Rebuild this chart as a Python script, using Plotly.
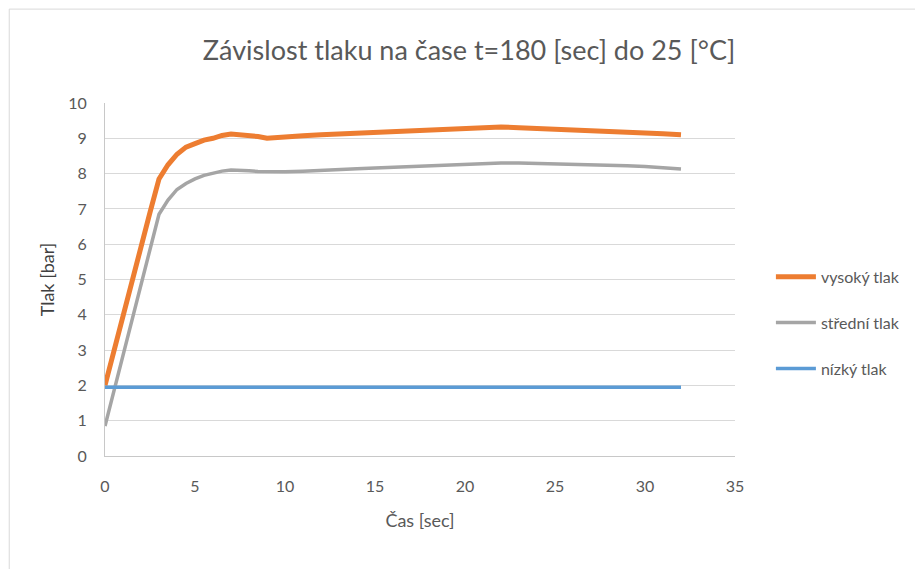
import plotly.graph_objects as go

t_high = [0, 0.5, 1, 1.5, 2, 2.5, 3, 3.5, 4, 4.5, 5, 5.5, 6, 6.5, 7, 7.5, 8, 8.5, 9, 10, 11, 12, 13, 14, 15, 16, 17, 18, 19, 20, 21, 22, 23, 24, 25, 26, 27, 28, 29, 30, 31, 32]
p_high = [2.0, 3.0, 3.95, 4.9, 5.9, 6.9, 7.85, 8.25, 8.55, 8.75, 8.85, 8.95, 9.0, 9.08, 9.12, 9.1, 9.05, 9.05, 9.0, 9.05, 9.07, 9.1, 9.12, 9.15, 9.17, 9.2, 9.22, 9.25, 9.27, 9.28, 9.3, 9.32, 9.3, 9.28, 9.27, 9.25, 9.24, 9.22, 9.2, 9.17, 9.13, 9.1]

t_mid = [0, 0.5, 1, 1.5, 2, 2.5, 3, 3.5, 4, 4.5, 5, 5.5, 6, 6.5, 7, 7.5, 8, 8.5, 9, 10, 11, 12, 13, 14, 15, 16, 17, 18, 19, 20, 21, 22, 23, 24, 25, 26, 27, 28, 29, 30, 31, 32]
p_mid = [0.85, 1.85, 2.85, 3.85, 4.95, 5.95, 6.85, 7.25, 7.55, 7.72, 7.85, 7.95, 8.02, 8.07, 8.1, 8.1, 8.08, 8.06, 8.05, 8.05, 8.07, 8.1, 8.12, 8.14, 8.16, 8.18, 8.2, 8.23, 8.25, 8.27, 8.29, 8.3, 8.3, 8.29, 8.28, 8.27, 8.26, 8.24, 8.22, 8.2, 8.17, 8.13]

t_low = [0, 32]
p_low = [1.95, 1.95]

series_names = ["vysoký tlak", "střední tlak", "nízký tlak"]
x_ticks = [0, 5, 10, 15, 20, 25, 30, 35]
y_ticks = [0, 1, 2, 3, 4, 5, 6, 7, 8, 9, 10]

FONT = "Lato, 'Open Sans', sans-serif"
GREY = "#595959"
fig = go.Figure()
fig.add_trace(go.Scatter(x=t_high, y=p_high, mode="lines", name=series_names[0],
                         line=dict(color="#ED7D31", width=5), legendgroup="a"))
fig.add_trace(go.Scatter(x=t_mid, y=p_mid, mode="lines", name=series_names[1],
                         line=dict(color="#A5A5A5", width=3.5), legendgroup="b"))
fig.add_trace(go.Scatter(x=t_low, y=p_low, mode="lines", name=series_names[2],
                         line=dict(color="#5B9BD5", width=3.5), legendgroup="c"))

fig.update_layout(
    width=923, height=569,
    margin=dict(l=97, r=196, t=95, b=121),
    paper_bgcolor="white", plot_bgcolor="white",
    font=dict(family=FONT, color=GREY, size=16),
    title=dict(text="Závislost tlaku na čase t=180 [sec] do 25 [°C]", x=0.4995, xanchor="center",
               y=0.926, yanchor="middle", font=dict(size=27, color=GREY, family=FONT)),
    xaxis=dict(range=[0, 35], tickvals=x_ticks, showgrid=False, zeroline=False,
               showline=True, linecolor="#C8C8C8", linewidth=1, ticks="",
               ticklabelstandoff=16, tickfont=dict(size=16, color=GREY),
               title=dict(text="Čas [sec]", font=dict(size=18, color=GREY), standoff=20)),
    yaxis=dict(range=[0, 10], tickvals=y_ticks, showgrid=True, gridcolor="#D9D9D9", zeroline=False,
               showline=True, linecolor="#C8C8C8", linewidth=1, ticks="",
               ticklabelstandoff=14, tickfont=dict(size=16, color=GREY),
               title=dict(text="Tlak [bar]", font=dict(size=18, color="#404040"), standoff=8)),
    legend=dict(x=1.057, y=0.377, xanchor="left", yanchor="middle", tracegroupgap=22,
                font=dict(size=16, color=GREY), itemwidth=40),
    showlegend=True,
)
fig.add_shape(type="rect", xref="paper", yref="paper", x0=-0.152, y0=-0.4, x1=1.4, y1=1.266,
              line=dict(color="#D9D9D9", width=1), layer="below")
fig.write_html("out.html")
